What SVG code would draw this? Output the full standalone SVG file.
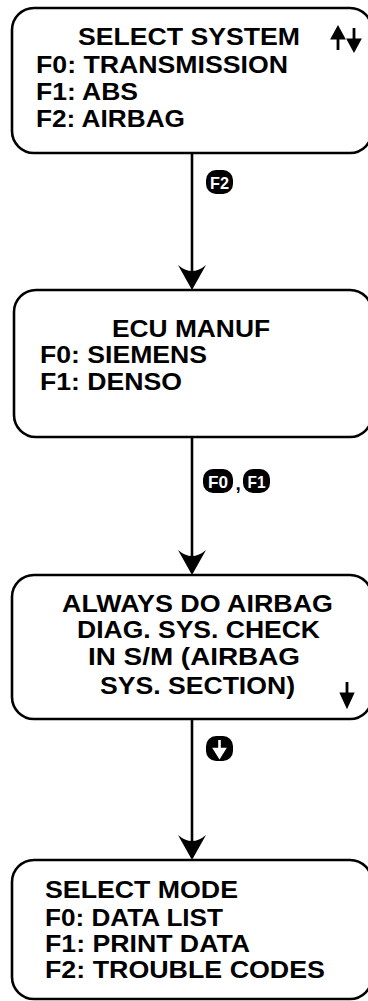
<svg xmlns="http://www.w3.org/2000/svg" width="368" height="1001" viewBox="0 0 368 1001">
<defs>
<style>
.box{fill:#fff;stroke:#000;stroke-width:2.6}
.t{font-family:"Liberation Sans",Arial,sans-serif;font-weight:bold;font-size:24.5px;fill:#000}
.line{stroke:#000;stroke-width:2.6;fill:none}
.key{fill:#000}
.kt{font-family:"Liberation Sans",Arial,sans-serif;font-weight:bold;font-size:17px;fill:#fff;text-anchor:middle}
</style>
<path id="ah" d="M0,0 L-14,-25 Q0,-13 14,-25 Z" fill="#000"/>
</defs>
<rect width="368" height="1001" fill="#fff"/>
<g id="connectors">
<line class="line" x1="192" y1="153" x2="192" y2="280"/>
<use href="#ah" x="192" y="290"/>
<line class="line" x1="192" y1="437" x2="192" y2="565"/>
<use href="#ah" x="192" y="575"/>
<line class="line" x1="192" y1="719" x2="192" y2="850"/>
<use href="#ah" x="192" y="860"/>
</g>
<g id="label-f2">
<rect class="key" x="206" y="170" width="27" height="24" rx="10"/>
<text class="kt" x="219.5" y="188.5" textLength="19" lengthAdjust="spacingAndGlyphs">F2</text>
</g>
<g id="label-f0-f1">
<rect class="key" x="203" y="469" width="30" height="24" rx="10"/>
<text class="kt" x="218" y="487.5" textLength="20" lengthAdjust="spacingAndGlyphs">F0</text>
<text class="t" x="235.5" y="490" style="font-size:19px">,</text>
<rect class="key" x="243" y="469" width="27" height="24" rx="10"/>
<text class="kt" x="256.5" y="487.5" textLength="18" lengthAdjust="spacingAndGlyphs">F1</text>
</g>
<g id="label-down">
<rect class="key" x="206" y="736" width="27" height="25" rx="10"/>
<path d="M219.5,740 L219.5,752 M214.5,749 L219.5,757 L224.5,749 Z" stroke="#fff" stroke-width="2.6" fill="#fff"/>
</g>
<g id="node-select-system">
<rect class="box" x="12" y="8" width="360" height="145" rx="22" ry="22"/>
<text class="t" x="78" y="45" textLength="222" lengthAdjust="spacingAndGlyphs">SELECT SYSTEM</text>
<path d="M338,50 L338,35 M332.5,38 L338,28 L343.5,38 Z" stroke="#000" stroke-width="2.8" fill="#000"/>
<path d="M354,28 L354,43 M348.5,40 L354,50 L359.5,40 Z" stroke="#000" stroke-width="2.8" fill="#000"/>
<text class="t" x="36" y="73" textLength="252" lengthAdjust="spacingAndGlyphs">F0: TRANSMISSION</text>
<text class="t" x="36" y="100" textLength="102" lengthAdjust="spacingAndGlyphs">F1: ABS</text>
<text class="t" x="36" y="127" textLength="149" lengthAdjust="spacingAndGlyphs">F2: AIRBAG</text>
</g>
<g id="node-ecu-manuf">
<rect class="box" x="14" y="290" width="358" height="147" rx="22" ry="22"/>
<text class="t" x="112" y="337" textLength="158" lengthAdjust="spacingAndGlyphs">ECU MANUF</text>
<text class="t" x="40" y="363" textLength="167" lengthAdjust="spacingAndGlyphs">F0: SIEMENS</text>
<text class="t" x="40" y="390" textLength="142" lengthAdjust="spacingAndGlyphs">F1: DENSO</text>
</g>
<g id="node-airbag-check">
<rect class="box" x="12" y="575" width="360" height="144" rx="22" ry="22"/>
<text class="t" x="62" y="612" textLength="271" lengthAdjust="spacingAndGlyphs">ALWAYS DO AIRBAG</text>
<text class="t" x="77" y="638" textLength="243" lengthAdjust="spacingAndGlyphs">DIAG. SYS. CHECK</text>
<text class="t" x="88" y="665" textLength="212" lengthAdjust="spacingAndGlyphs">IN S/M (AIRBAG</text>
<text class="t" x="100" y="694" textLength="195" lengthAdjust="spacingAndGlyphs">SYS. SECTION)</text>
<path d="M347,682 L347,697 M341.5,694 L347,706 L352.5,694 Z" stroke="#000" stroke-width="2.8" fill="#000"/>
</g>
<g id="node-select-mode">
<rect class="box" x="12" y="860" width="360" height="139" rx="22" ry="22"/>
<text class="t" x="45" y="898" textLength="193" lengthAdjust="spacingAndGlyphs">SELECT MODE</text>
<text class="t" x="45" y="926" textLength="178" lengthAdjust="spacingAndGlyphs">F0: DATA LIST</text>
<text class="t" x="45" y="952" textLength="205" lengthAdjust="spacingAndGlyphs">F1: PRINT DATA</text>
<text class="t" x="45" y="978" textLength="280" lengthAdjust="spacingAndGlyphs">F2: TROUBLE CODES</text>
</g>
</svg>
